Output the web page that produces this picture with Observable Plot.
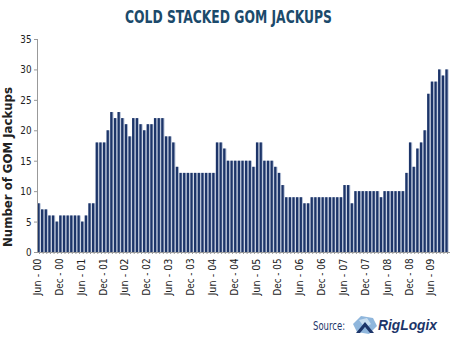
<!DOCTYPE html>
<html><head><meta charset="utf-8">
<script src="https://cdn.jsdelivr.net/npm/d3@7"></script>
<script src="https://cdn.jsdelivr.net/npm/@observablehq/plot@0.6"></script>
<style>
html,body{margin:0;padding:0;background:#fff}
svg{display:block}
</style>
</head><body><div id="chart"></div>
<script>
// Monthly count of cold-stacked GOM jackups, Jun-2000 .. Oct-2009
const jackups = [
  8,7,7,6,6,5,6,6,6,6,6,6,5,6,8,8,18,18,18,20,23,22,23,22,21,19,22,22,21,20,21,21,22,22,22,19,19,18,14,
  13,13,13,13,13,13,13,13,13,13,18,18,17,15,15,15,15,15,15,15,14,18,18,15,15,15,14,13,11,
  9,9,9,9,9,8,8,9,9,9,9,9,9,9,9,9,11,11,8,10,10,10,10,10,10,10,9,10,10,10,10,10,10,
  13,18,14,17,18,20,26,28,28,30,29,30
];
const tickLabels = [
  "Jun - 00","Dec - 00","Jun - 01","Dec - 01","Jun - 02","Dec - 02","Jun - 03","Dec - 03",
  "Jun - 04","Dec - 04","Jun - 05","Dec - 05","Jun - 06","Dec - 06","Jun - 07","Dec - 07",
  "Jun - 08","Dec - 08","Jun - 09"
];
const yTicks = [0,5,10,15,20,25,30,35];
const title = "COLD STACKED GOM JACKUPS";
const yLabel = "Number of GOM Jackups";

const data = jackups.map((v, i) => ({i, v}));
const idx = d3.range(jackups.length);
const font = "'Liberation Sans Narrow','DejaVu Sans Condensed','Arial Narrow',sans-serif";

const chart = Plot.plot({
  width: 450, height: 342,
  marginLeft: 37, marginRight: 1, marginTop: 39, marginBottom: 90,
  style: {fontFamily: font, fontSize: "11px", color: "#333", background: "#fff"},
  x: {type: "band", domain: idx, padding: 0.1, align: 0.5},
  y: {domain: [0, 35]},
  marks: [
    Plot.barY(data, {x: "i", y: "v", fill: "#b4c0d6"}),
    Plot.barY(data, {x: "i", y: "v", fill: "#1d3569", insetRight: 1}),
    Plot.axisY({ticks: yTicks, tickSize: 3, tickPadding: 3, label: null, stroke: "#999", fill: "#222"}),
    Plot.axisX({ticks: idx, tickSize: 2, tickFormat: () => "", label: null, stroke: "#999"}),
    Plot.axisX({ticks: d3.range(0, jackups.length, 6), tickSize: 0, tickPadding: 6, tickRotate: -90,
                tickFormat: i => tickLabels[i / 6], label: null, dx: -2, fill: "#222"}),
    Plot.frame({anchor: "left", stroke: "#999"}),
    Plot.frame({anchor: "bottom", stroke: "#999"})
  ]
});
document.getElementById("chart").appendChild(chart);

const svg = d3.select(chart);
// condense the x tick labels to the narrow look of the original
svg.selectAll('g[aria-label="x-axis tick label"] text')
  .attr("textLength", 37).attr("lengthAdjust", "spacingAndGlyphs");
svg.selectAll('g[aria-label="y-axis tick label"] text')
  .each(function() { const t = d3.select(this); t.attr("textLength", t.text().length * 5.6).attr("lengthAdjust", "spacingAndGlyphs"); });

svg.append("text")
  .attr("x", 228.5).attr("y", 23)
  .attr("text-anchor", "middle")
  .attr("textLength", 207).attr("lengthAdjust", "spacingAndGlyphs")
  .style("font-family", font).style("font-weight", "bold").style("font-size", "17px")
  .attr("fill", "#1b4a6b")
  .text(title);
svg.append("text")
  .attr("transform", "translate(12,167) rotate(-90)")
  .attr("text-anchor", "middle")
  .attr("textLength", 160).attr("lengthAdjust", "spacingAndGlyphs")
  .style("font-family", font).style("font-weight", "bold").style("font-size", "12px")
  .attr("fill", "#222")
  .text(yLabel);
svg.append("text")
  .attr("x", 313).attr("y", 330)
  .attr("text-anchor", "start")
  .attr("textLength", 32).attr("lengthAdjust", "spacingAndGlyphs")
  .style("font-family", font).style("font-size", "13px")
  .attr("fill", "#1d3569")
  .text("Source:");
// RigLogix logo
const logo = svg.append("g").attr("transform", "translate(353,316)");
logo.append("path").attr("d", "M8,0 L20,2 L24,10 L16,18 L4,16 L0,8 Z").attr("fill", "#8fb6dc");
logo.append("path").attr("d", "M6,4 L14,2 L18,8 L12,12 Z").attr("fill", "#c9def0");
logo.append("path").attr("d", "M3,17 L12,6 L21,17 L17,17 L12,11 L7,17 Z").attr("fill", "#1d3569");
svg.append("text")
  .attr("x", 378).attr("y", 330)
  .attr("text-anchor", "start")
  .attr("textLength", 59).attr("lengthAdjust", "spacingAndGlyphs")
  .style("font-family", "'Liberation Sans','DejaVu Sans',sans-serif").style("font-weight", "bold")
  .style("font-style", "italic").style("font-size", "14px")
  .attr("fill", "#1d3569")
  .text("RigLogix");
</script>
</body></html>
